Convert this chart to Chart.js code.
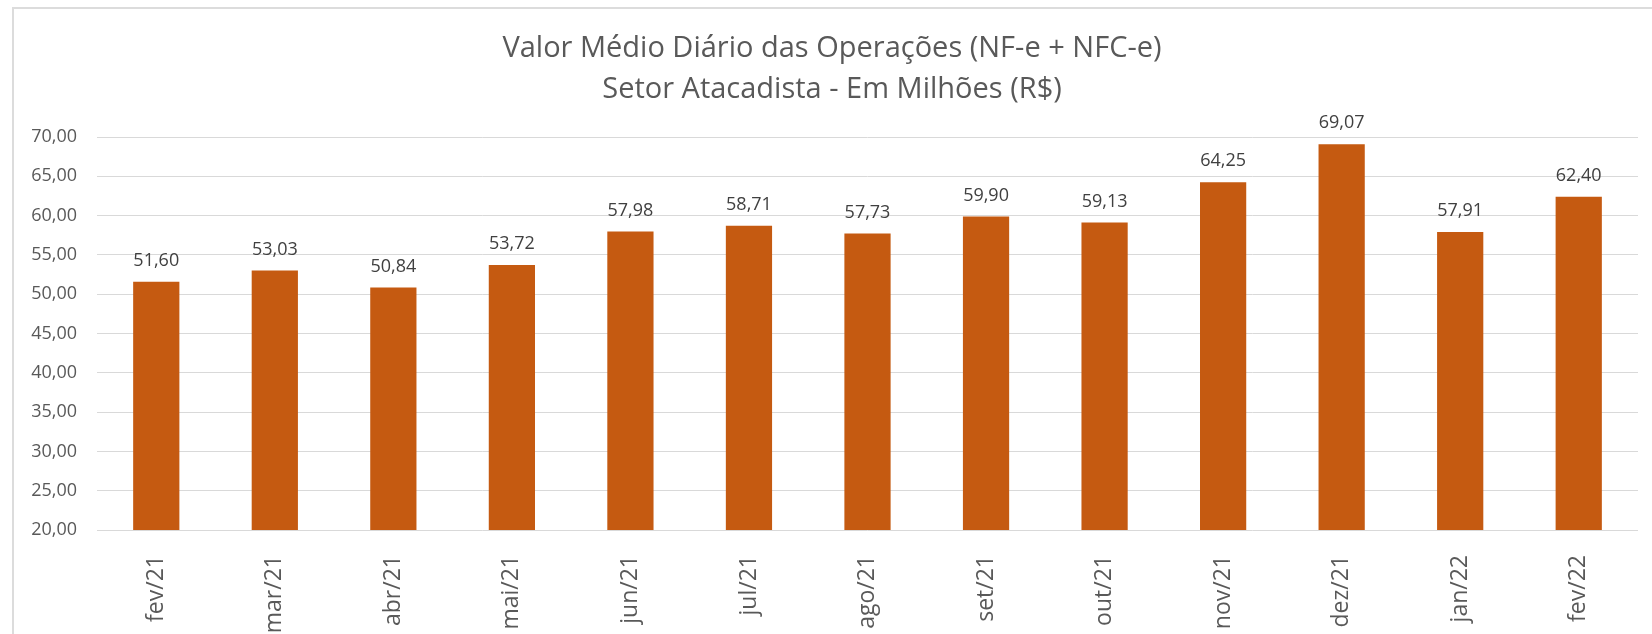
<!DOCTYPE html>
<html>
<head>
<meta charset="utf-8">
<script src="https://cdn.jsdelivr.net/npm/chart.js@4.4.1/dist/chart.umd.min.js"></script>
<style>
  body { margin: 0; background: #fff; }
  #wrap { position: relative; width: 1652px; height: 634px; overflow: hidden; }
  #frame { position: absolute; left: 12px; top: 7px; width: 1700px; height: 700px;
           border: 2px solid #dcdcdc; box-sizing: border-box; pointer-events: none; }
  canvas { position: absolute; left: 0; top: 0; }
</style>
</head>
<body>
<div id="wrap">
  <canvas id="chart" width="1652" height="634"></canvas>
  <div id="frame"></div>
</div>
<script>
const months = ["fev/21", "mar/21", "abr/21", "mai/21", "jun/21", "jul/21", "ago/21",
                "set/21", "out/21", "nov/21", "dez/21", "jan/22", "fev/22"];
const dailyAvg = [51.60, 53.03, 50.84, 53.72, 57.98, 58.71, 57.73, 59.90, 59.13, 64.25, 69.07, 57.91, 62.40];
const titleLines = ["Valor Médio Diário das Operações (NF-e + NFC-e)", "Setor Atacadista - Em Milhões (R$)"];

const fmt = (v) => v.toFixed(2).replace(".", ",");

// draws the value above each bar
const barValues = {
    id: "barValues",
    afterDatasetsDraw(chart) {
        const ctx = chart.ctx;
        const meta = chart.getDatasetMeta(0);
        ctx.save();
        ctx.font = "18px 'Open Sans'";
        ctx.fillStyle = "#404040";
        ctx.textAlign = "center";
        ctx.textBaseline = "middle";
        meta.data.forEach((bar, i) => {
            ctx.fillText(fmt(chart.data.datasets[0].data[i]), bar.x, bar.y - 21);
        });
        ctx.restore();
    }
};

new Chart(document.getElementById("chart"), {
    type: "bar",
    data: {
        labels: months,
        datasets: [{
            data: dailyAvg,
            backgroundColor: "#C55A11",
            categoryPercentage: 1,
            barPercentage: 0.39
        }]
    },
    plugins: [barValues],
    options: {
        responsive: false,
        animation: false,
        layout: { padding: { left: 26, right: 14, top: 0, bottom: 0 } },
        plugins: {
            legend: { display: false },
            tooltip: { enabled: false },
            title: {
                display: true,
                text: titleLines,
                color: "#595959",
                font: { family: "'Open Sans'", size: 29, weight: "normal", lineHeight: 1.414 },
                padding: { top: 28, bottom: 27 }
            }
        },
        scales: {
            x: {
                grid: { display: false },
                border: { display: false },
                ticks: {
                    color: "#595959",
                    font: { family: "'Open Sans'", size: 23 },
                    minRotation: 90,
                    maxRotation: 90,
                    padding: 17
                },
                afterFit: (scale) => { scale.height = 104; }
            },
            y: {
                min: 20,
                max: 70,
                grid: { color: "#d9d9d9", lineWidth: 1, drawTicks: false },
                border: { display: false },
                ticks: {
                    stepSize: 5,
                    color: "#595959",
                    font: { family: "'Open Sans'", size: 18 },
                    padding: 20,
                    callback: (v) => fmt(v)
                },
                afterFit: (scale) => { scale.width = 71; }
            }
        }
    }
});
</script>
</body>
</html>
